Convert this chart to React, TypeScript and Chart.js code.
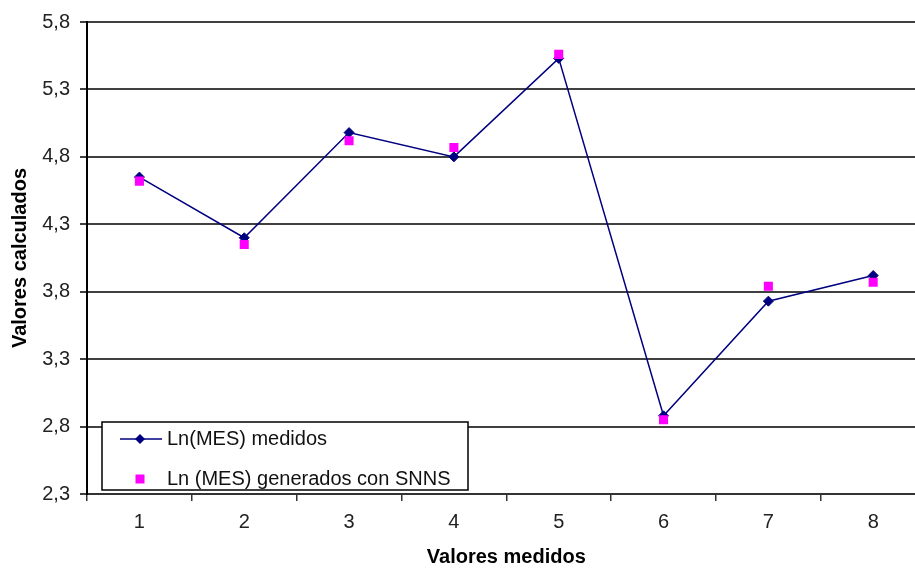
import React, { useEffect, useRef } from 'react';
import { Chart, registerables } from 'chart.js';

Chart.register(...registerables);

const categories = ['1', '2', '3', '4', '5', '6', '7', '8'];
const measured = [4.65, 4.2, 4.98, 4.8, 5.53, 2.88, 3.73, 3.92];
const snns = [4.62, 4.15, 4.92, 4.87, 5.56, 2.85, 3.84, 3.87];
const yTicks = [2.3, 2.8, 3.3, 3.8, 4.3, 4.8, 5.3, 5.8];
const seriesLabels = ['Ln(MES) medidos', 'Ln (MES) generados con SNNS'];
const xTitle = 'Valores medidos';
const yTitle = 'Valores calculados';

const NAVY = '#000080';
const PINK = '#FF00FF';
const FONT = '"Liberation Sans", Arial, sans-serif';

const boxLegend = {
  id: 'boxLegend',
  afterDraw(chart: any) {
    const ctx = chart.ctx as CanvasRenderingContext2D;
    const ca = chart.chartArea;
    const bx = ca.left + 15;
    const by = ca.bottom - 72;
    const bw = 366;
    const bh = 68;
    ctx.save();
    ctx.fillStyle = '#fff';
    ctx.fillRect(bx, by, bw, bh);
    ctx.strokeStyle = '#000';
    ctx.lineWidth = 1.5;
    ctx.strokeRect(bx, by, bw, bh);

    const ds = chart.data.datasets;
    const y1 = by + 17;
    ctx.strokeStyle = ds[0].borderColor;
    ctx.lineWidth = 1.5;
    ctx.beginPath();
    ctx.moveTo(bx + 18, y1);
    ctx.lineTo(bx + 60, y1);
    ctx.stroke();
    const cx = bx + 38;
    ctx.fillStyle = ds[0].pointBackgroundColor;
    ctx.beginPath();
    ctx.moveTo(cx, y1 - 5);
    ctx.lineTo(cx + 5, y1);
    ctx.lineTo(cx, y1 + 5);
    ctx.lineTo(cx - 5, y1);
    ctx.closePath();
    ctx.fill();

    const y2 = by + 57;
    ctx.fillStyle = ds[1].pointBackgroundColor;
    ctx.fillRect(cx - 4.5, y2 - 4.5, 9, 9);

    ctx.fillStyle = '#111';
    ctx.font = `20px ${FONT}`;
    ctx.textBaseline = 'middle';
    ctx.textAlign = 'left';
    ctx.fillText(ds[0].label, bx + 65, y1);
    ctx.fillText(ds[1].label, bx + 65, y2);
    ctx.restore();
  },
};

export default function App() {
  const ref = useRef<HTMLCanvasElement | null>(null);

  useEffect(() => {
    if (!ref.current) return;
    const chart = new Chart(ref.current, {
      type: 'line',
      data: {
        labels: categories,
        datasets: [
          {
            label: seriesLabels[0],
            data: measured,
            borderColor: NAVY,
            borderWidth: 1.5,
            backgroundColor: NAVY,
            pointBackgroundColor: NAVY,
            pointBorderColor: NAVY,
            pointBorderWidth: 1,
            pointStyle: 'rectRot',
            pointRadius: 5,
            tension: 0,
            fill: false,
            order: 1,
          },
          {
            label: seriesLabels[1],
            data: snns,
            showLine: false,
            backgroundColor: PINK,
            pointBackgroundColor: PINK,
            pointBorderColor: PINK,
            pointBorderWidth: 0,
            pointStyle: 'rect',
            pointRadius: 6.4,
            order: 0,
          },
        ],
      },
      options: {
        animation: false,
        responsive: false,
        devicePixelRatio: 1,
        layout: { padding: { top: 20, left: 0, right: 0, bottom: 0 } },
        plugins: {
          legend: { display: false },
          tooltip: { enabled: false },
        },
        scales: {
          x: {
            type: 'category',
            offset: true,
            grid: {
              offset: true,
              drawOnChartArea: false,
              drawTicks: true,
              tickLength: 7,
              color: '#333',
              lineWidth: 1.5,
            },
            border: { display: true, color: '#333', width: 2 },
            ticks: {
              color: '#222',
              padding: 9,
              font: { family: FONT, size: 20 },
              maxRotation: 0,
            },
            title: {
              display: true,
              text: xTitle,
              color: '#000',
              font: { family: FONT, size: 20, weight: 'bold', lineHeight: 1 },
              padding: { top: 0, bottom: 4 },
            },
            afterFit: (axis: any) => {
              axis.height = 77;
            },
          },
          y: {
            type: 'linear',
            min: 2.3,
            max: 5.8,
            afterBuildTicks: (axis: any) => {
              axis.ticks = yTicks.map((v) => ({ value: v }));
            },
            grid: {
              color: '#404040',
              lineWidth: 2,
              drawTicks: true,
              tickLength: 7,
            },
            border: { display: true, color: '#000', width: 2 },
            ticks: {
              color: '#222',
              padding: 10,
              font: { family: FONT, size: 20 },
              callback: (v: any) => Number(v).toFixed(1).replace('.', ','),
            },
            title: {
              display: true,
              text: yTitle,
              color: '#000',
              font: { family: FONT, size: 20, weight: 'bold', lineHeight: 1.2 },
              padding: { top: 8, bottom: 0 },
            },
            afterFit: (axis: any) => {
              axis.width = 87;
            },
          },
        },
      },
      plugins: [boxLegend],
    });
    return () => chart.destroy();
  }, []);

  return (
    <div
      style={{
        position: 'fixed',
        left: 0,
        top: 0,
        width: 915,
        height: 571,
        overflow: 'hidden',
        background: '#fff',
      }}
    >
      <canvas ref={ref} width={932} height={571} style={{ display: 'block' }} />
    </div>
  );
}
